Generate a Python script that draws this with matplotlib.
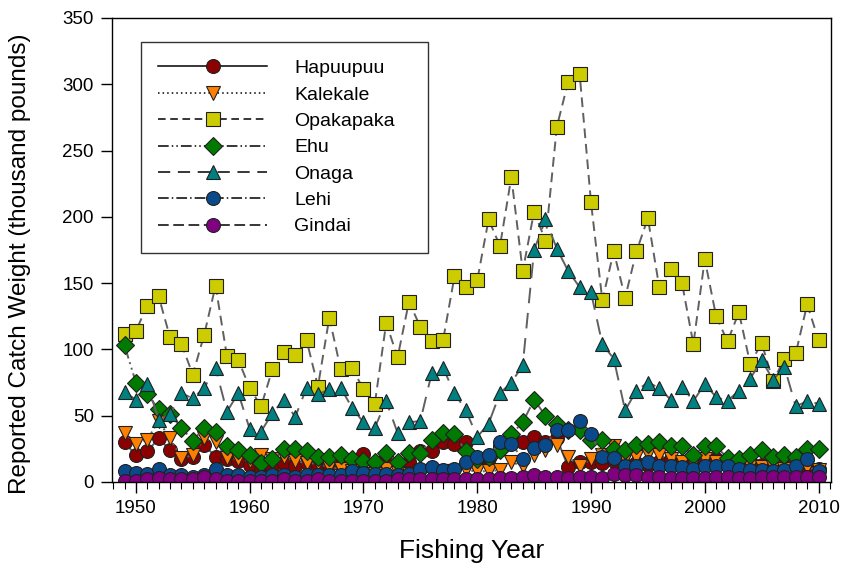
import matplotlib
matplotlib.use("Agg")
import matplotlib.pyplot as plt
from matplotlib.ticker import MultipleLocator

plt.rcParams['font.family'] = ['Liberation Sans', 'DejaVu Sans']

years = list(range(1949, 2011))

hapuupuu = [30, 20, 23, 33, 24, 17, 19, 28, 19, 17,
            16, 13, 9, 11, 14, 12, 14, 13, 13, 13,
            14, 21, 14, 19, 14, 15, 23, 23, 30, 29,
            30, 15, 18, 27, 34, 30, 34, 30, 33, 11,
            15, 15, 14, 16, 13, 14, 13, 15, 17, 15,
            13, 14, 17, 15, 13, 13, 13, 12, 12, 13,
            11, 10]
kalekale = [37, 29, 32, 46, 33, 18, 20, 33, 30, 18,
            17, 16, 20, 17, 19, 16, 14, 14, 11, 10,
            8, 6, 6, 10, 7, 6, 8, 7, 8, 8,
            9, 8, 8, 9, 15, 12, 20, 24, 28, 19,
            12, 17, 20, 27, 17, 19, 21, 20, 17, 15,
            14, 17, 15, 13, 13, 12, 11, 11, 10, 11,
            11, 9]
opakapaka = [112, 114, 133, 140, 109, 104, 81, 111, 148, 95,
             92, 71, 57, 85, 98, 96, 107, 72, 124, 85,
             86, 70, 59, 120, 94, 136, 117, 106, 107, 155,
             147, 152, 198, 178, 230, 159, 204, 182, 268, 302,
             308, 211, 137, 174, 139, 174, 199, 147, 161, 150,
             104, 168, 125, 106, 128, 89, 105, 76, 93, 97,
             134, 107]
ehu = [103, 75, 66, 55, 51, 41, 31, 41, 38, 27,
       24, 20, 14, 17, 25, 25, 23, 19, 19, 20,
       17, 16, 15, 22, 15, 22, 22, 32, 37, 36,
       23, 17, 19, 24, 36, 45, 62, 50, 44, 39,
       39, 32, 32, 25, 24, 28, 29, 30, 27, 27,
       20, 27, 27, 18, 17, 20, 24, 19, 20, 19,
       25, 25]
onaga = [68, 62, 74, 47, 51, 67, 63, 71, 86, 53,
         67, 40, 38, 52, 62, 49, 71, 66, 70, 71,
         56, 45, 41, 61, 37, 45, 46, 82, 86, 67,
         54, 34, 44, 67, 75, 88, 175, 198, 176, 159,
         147, 143, 104, 93, 54, 69, 75, 71, 62, 72,
         61, 74, 64, 61, 69, 78, 92, 77, 87, 57,
         61, 59]
lehi = [8, 7, 6, 10, 5, 5, 4, 5, 10, 5,
        5, 4, 4, 5, 5, 4, 5, 5, 5, 5,
        8, 7, 6, 6, 5, 6, 10, 11, 9, 10,
        15, 19, 20, 30, 29, 17, 26, 28, 39, 39,
        46, 36, 19, 18, 12, 12, 15, 12, 12, 11,
        10, 12, 12, 12, 10, 9, 9, 8, 9, 12,
        17, 8]
gindai = [1, 1, 2, 3, 2, 2, 2, 4, 2, 1,
          1, 1, 1, 1, 2, 1, 1, 2, 1, 1,
          1, 1, 1, 1, 2, 2, 2, 2, 2, 2,
          2, 2, 2, 3, 3, 4, 5, 4, 4, 3,
          4, 4, 3, 6, 5, 5, 4, 4, 3, 3,
          3, 3, 4, 4, 3, 3, 4, 4, 4, 4,
          4, 4]

# name, values, marker, face colour, dash style
series = [
    ("Hapuupuu", hapuupuu, "o", "#8b0000", "-"),
    ("Kalekale", kalekale, "v", "#ff8000", (0, (1, 2))),
    ("Opakapaka", opakapaka, "s", "#cccc00", (0, (5, 3))),
    ("Ehu", ehu, "D", "#007a00", (0, (7, 2, 1, 2, 1, 2))),
    ("Onaga", onaga, "^", "#008080", (0, (8, 5))),
    ("Lehi", lehi, "o", "#0a4a8a", (0, (7, 2, 1, 2))),
    ("Gindai", gindai, "o", "#800080", (0, (7, 3))),
]
msizes = {"o": 10, "v": 10, "s": 9.5, "D": 9, "^": 10}

fig = plt.figure(figsize=(8.48, 5.71), dpi=100)
ax = fig.add_axes([0.1321, 0.1559, 0.8479, 0.8126])

for name, vals, mk, col, ls in series:
    ax.plot(years, vals, linestyle=ls, color="#606060", linewidth=1.4,
            marker=mk, markersize=msizes[mk], markerfacecolor=col,
            markeredgecolor="#202020", markeredgewidth=0.8, label=name)

ax.set_xlim(1947.9, 2011.1)
ax.set_ylim(0, 350)
ax.xaxis.set_major_locator(MultipleLocator(10))
ax.xaxis.set_minor_locator(MultipleLocator(1))
ax.yaxis.set_major_locator(MultipleLocator(50))
ax.tick_params(axis="both", which="major", direction="out", length=8,
               labelsize=13.5, width=1, pad=5)
ax.tick_params(axis="x", which="minor", direction="out", length=5, width=0.8)
for sp in ax.spines.values():
    sp.set_linewidth(1.0)

ax.set_xlabel("Fishing Year", fontsize=19, labelpad=16)
ax.set_ylabel("Reported Catch Weight (thousand pounds)", fontsize=17.5)
ax.yaxis.set_label_coords(-0.112, 0.47)

leg = ax.legend(loc="upper left", bbox_to_anchor=(0.040, 0.5, 0.399, 0.448),
                mode="expand", borderaxespad=0, fontsize=14, handlelength=5.6,
                handletextpad=1.4, labelspacing=0.45, borderpad=0.9,
                fancybox=False, framealpha=1, edgecolor="#333333")
for line in leg.get_lines():
    line.set_color("black")
    line.set_linewidth(1.1)
leg.get_frame().set_linewidth(1.0)

fig.savefig("out.png", dpi=100)
